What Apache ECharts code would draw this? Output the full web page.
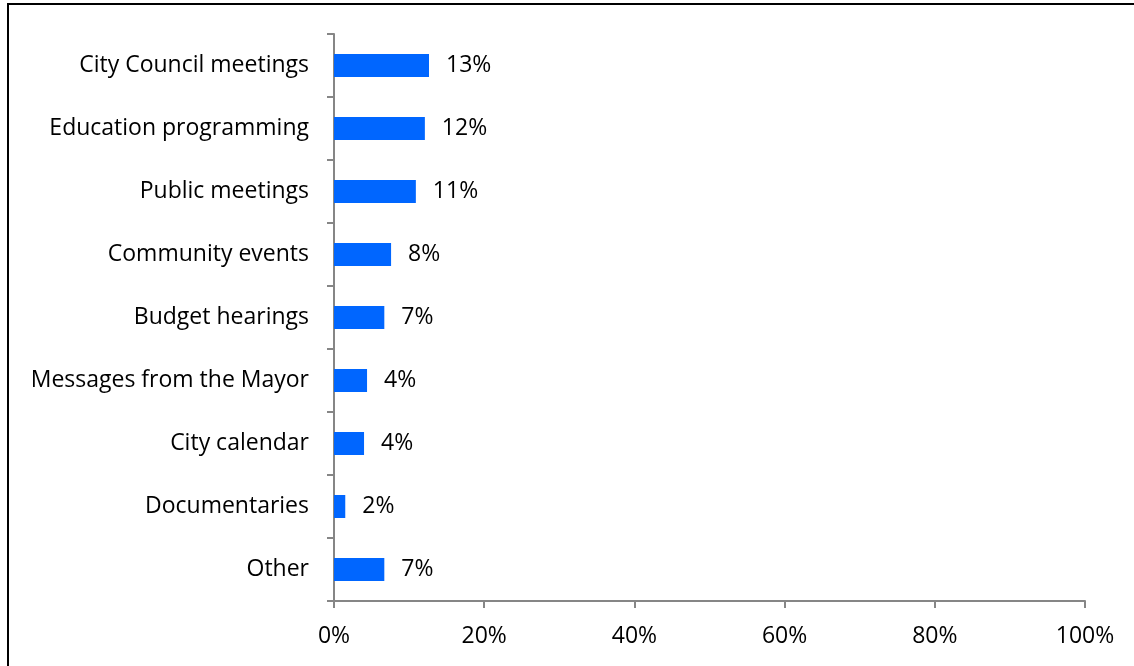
<!DOCTYPE html>
<html>
<head>
<meta charset="utf-8">
<script src="https://cdn.jsdelivr.net/npm/echarts@6/dist/echarts.min.js"></script>
<style>
  html, body { margin: 0; padding: 0; background: #fff; }
  #chart { width: 1134px; height: 666px; }
</style>
</head>
<body>
<div id="chart"></div>
<script>
// programming types, top to bottom
var categories = ['City Council meetings', 'Education programming', 'Public meetings',
    'Community events', 'Budget hearings', 'Messages from the Mayor',
    'City calendar', 'Documentaries', 'Other'];
// share of respondents, percent
var shares = [12.65, 12.1, 10.9, 7.6, 6.7, 4.4, 4.0, 1.5, 6.7];
var xTicks = [0, 20, 40, 60, 80, 100];

var chart = echarts.init(document.getElementById('chart'), null, { renderer: 'canvas' });
var font = '"Open Sans", Lato, sans-serif';
var fontSize = 23;
var axisGray = '#868686';

var option = {
    backgroundColor: '#ffffff',
    animation: false,
    textStyle: { fontFamily: font },
    grid: { left: 334, top: 34, right: 49, bottom: 65 },
    xAxis: {
        type: 'value',
        min: xTicks[0],
        max: xTicks[xTicks.length - 1],
        interval: xTicks[1] - xTicks[0],
        axisLine: { show: true, lineStyle: { color: axisGray, width: 2 } },
        axisTick: { show: true, length: 7, lineStyle: { color: axisGray, width: 2 } },
        splitLine: { show: false },
        axisLabel: {
            formatter: '{value}%',
            color: '#000', fontSize: fontSize, fontFamily: font, margin: 24
        }
    },
    yAxis: {
        type: 'category',
        data: categories,
        inverse: true,
        axisLine: { show: true, lineStyle: { color: axisGray, width: 2 } },
        axisTick: { show: true, length: 7, alignWithLabel: false, lineStyle: { color: axisGray, width: 2 } },
        axisLabel: { color: '#000', fontSize: fontSize, fontFamily: font, margin: 25, padding: [4, 0, 0, 0] }
    },
    series: [{
        type: 'bar',
        data: shares,
        barWidth: 23,
        itemStyle: { color: '#0066FF' },
        label: {
            show: true,
            position: 'right',
            distance: 17,
            color: '#000',
            fontSize: fontSize,
            fontFamily: font,
            padding: [4, 0, 0, 0],
            formatter: function (p) { return Math.round(p.value) + '%'; }
        }
    }],
    graphic: [
        // frame lines of the original picture (top and left)
        { type: 'line', shape: { x1: 7, y1: 4, x2: 1134, y2: 4 }, style: { stroke: '#000', lineWidth: 2 } },
        { type: 'line', shape: { x1: 8, y1: 4, x2: 8, y2: 666 }, style: { stroke: '#000', lineWidth: 2 } }
    ]
};

chart.setOption(option);
</script>
</body>
</html>
